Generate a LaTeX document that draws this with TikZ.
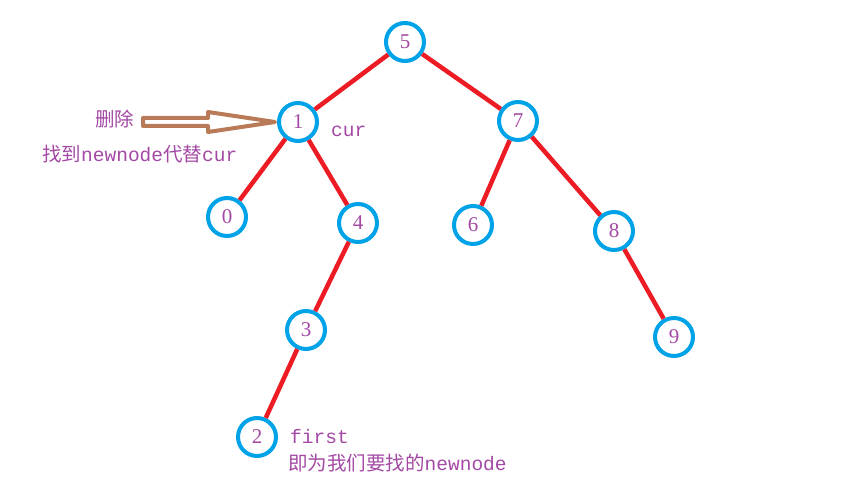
\documentclass[tikz,border=0pt]{standalone}
\usepackage{fontspec}
\setmainfont{Liberation Mono}
\newfontfamily\cjk{Noto Sans CJK SC}
\newfontfamily\numfont{Liberation Serif}
\definecolor{ringblue}{RGB}{0,162,232}
\definecolor{edgered}{RGB}{237,28,36}
\definecolor{notebrown}{RGB}{185,122,87}
\definecolor{notepurple}{RGB}{163,73,164}

\begin{document}
\begin{tikzpicture}[x=1pt,y=-1pt,
        key/.style={circle,draw=ringblue,line width=4pt,minimum size=38pt,inner sep=0pt,
                    text=notepurple,font=\numfont\fontsize{21}{25}\selectfont},
        link/.style={draw=edgered,line width=4.5pt},
        note/.style={anchor=base west,inner sep=0pt,text=notepurple,font=\fontsize{19.5}{23}\selectfont}]
        \useasboundingbox (0,0) rectangle (865,492);
        \node[key] (n5) at (405,42)  {5};
        \node[key] (n1) at (298,122) {1};
        \node[key] (n7) at (518,121) {7};
        \node[key] (n0) at (227,217) {0};
        \node[key] (n4) at (358,223) {4};
        \node[key] (n6) at (473,225) {6};
        \node[key] (n8) at (614,231) {8};
        \node[key] (n3) at (306,330) {3};
        \node[key] (n9) at (674,337) {9};
        \node[key] (n2) at (257,437) {2};
        \draw[link] (n5) -- (n1);
        \draw[link] (n5) -- (n7);
        \draw[link] (n1) -- (n0);
        \draw[link] (n1) -- (n4);
        \draw[link] (n4) -- (n3);
        \draw[link] (n3) -- (n2);
        \draw[link] (n7) -- (n6);
        \draw[link] (n7) -- (n8);
        \draw[link] (n8) -- (n9);
        \node[note] (del)   at (95,127)  {\cjk 删除};
        \node[note] (find)  at (42,161)  {{\cjk 找到}newnode{\cjk 代替}cur};
        \node[note] (cur)   at (331,137) {cur};
        \node[note] (first) at (290,443) {first};
        \node[note] (isnew) at (288,470) {{\cjk 即为我们要找的}newnode};
        \draw[notebrown,line width=4pt,line join=round] ([xshift=-2pt]n1.west)
            -- ++(-67,-10) -- ++(0,6) -- ++(-65,0) -- ++(0,8) -- ++(65,0) -- ++(0,6) -- cycle;
\end{tikzpicture}
\end{document}
